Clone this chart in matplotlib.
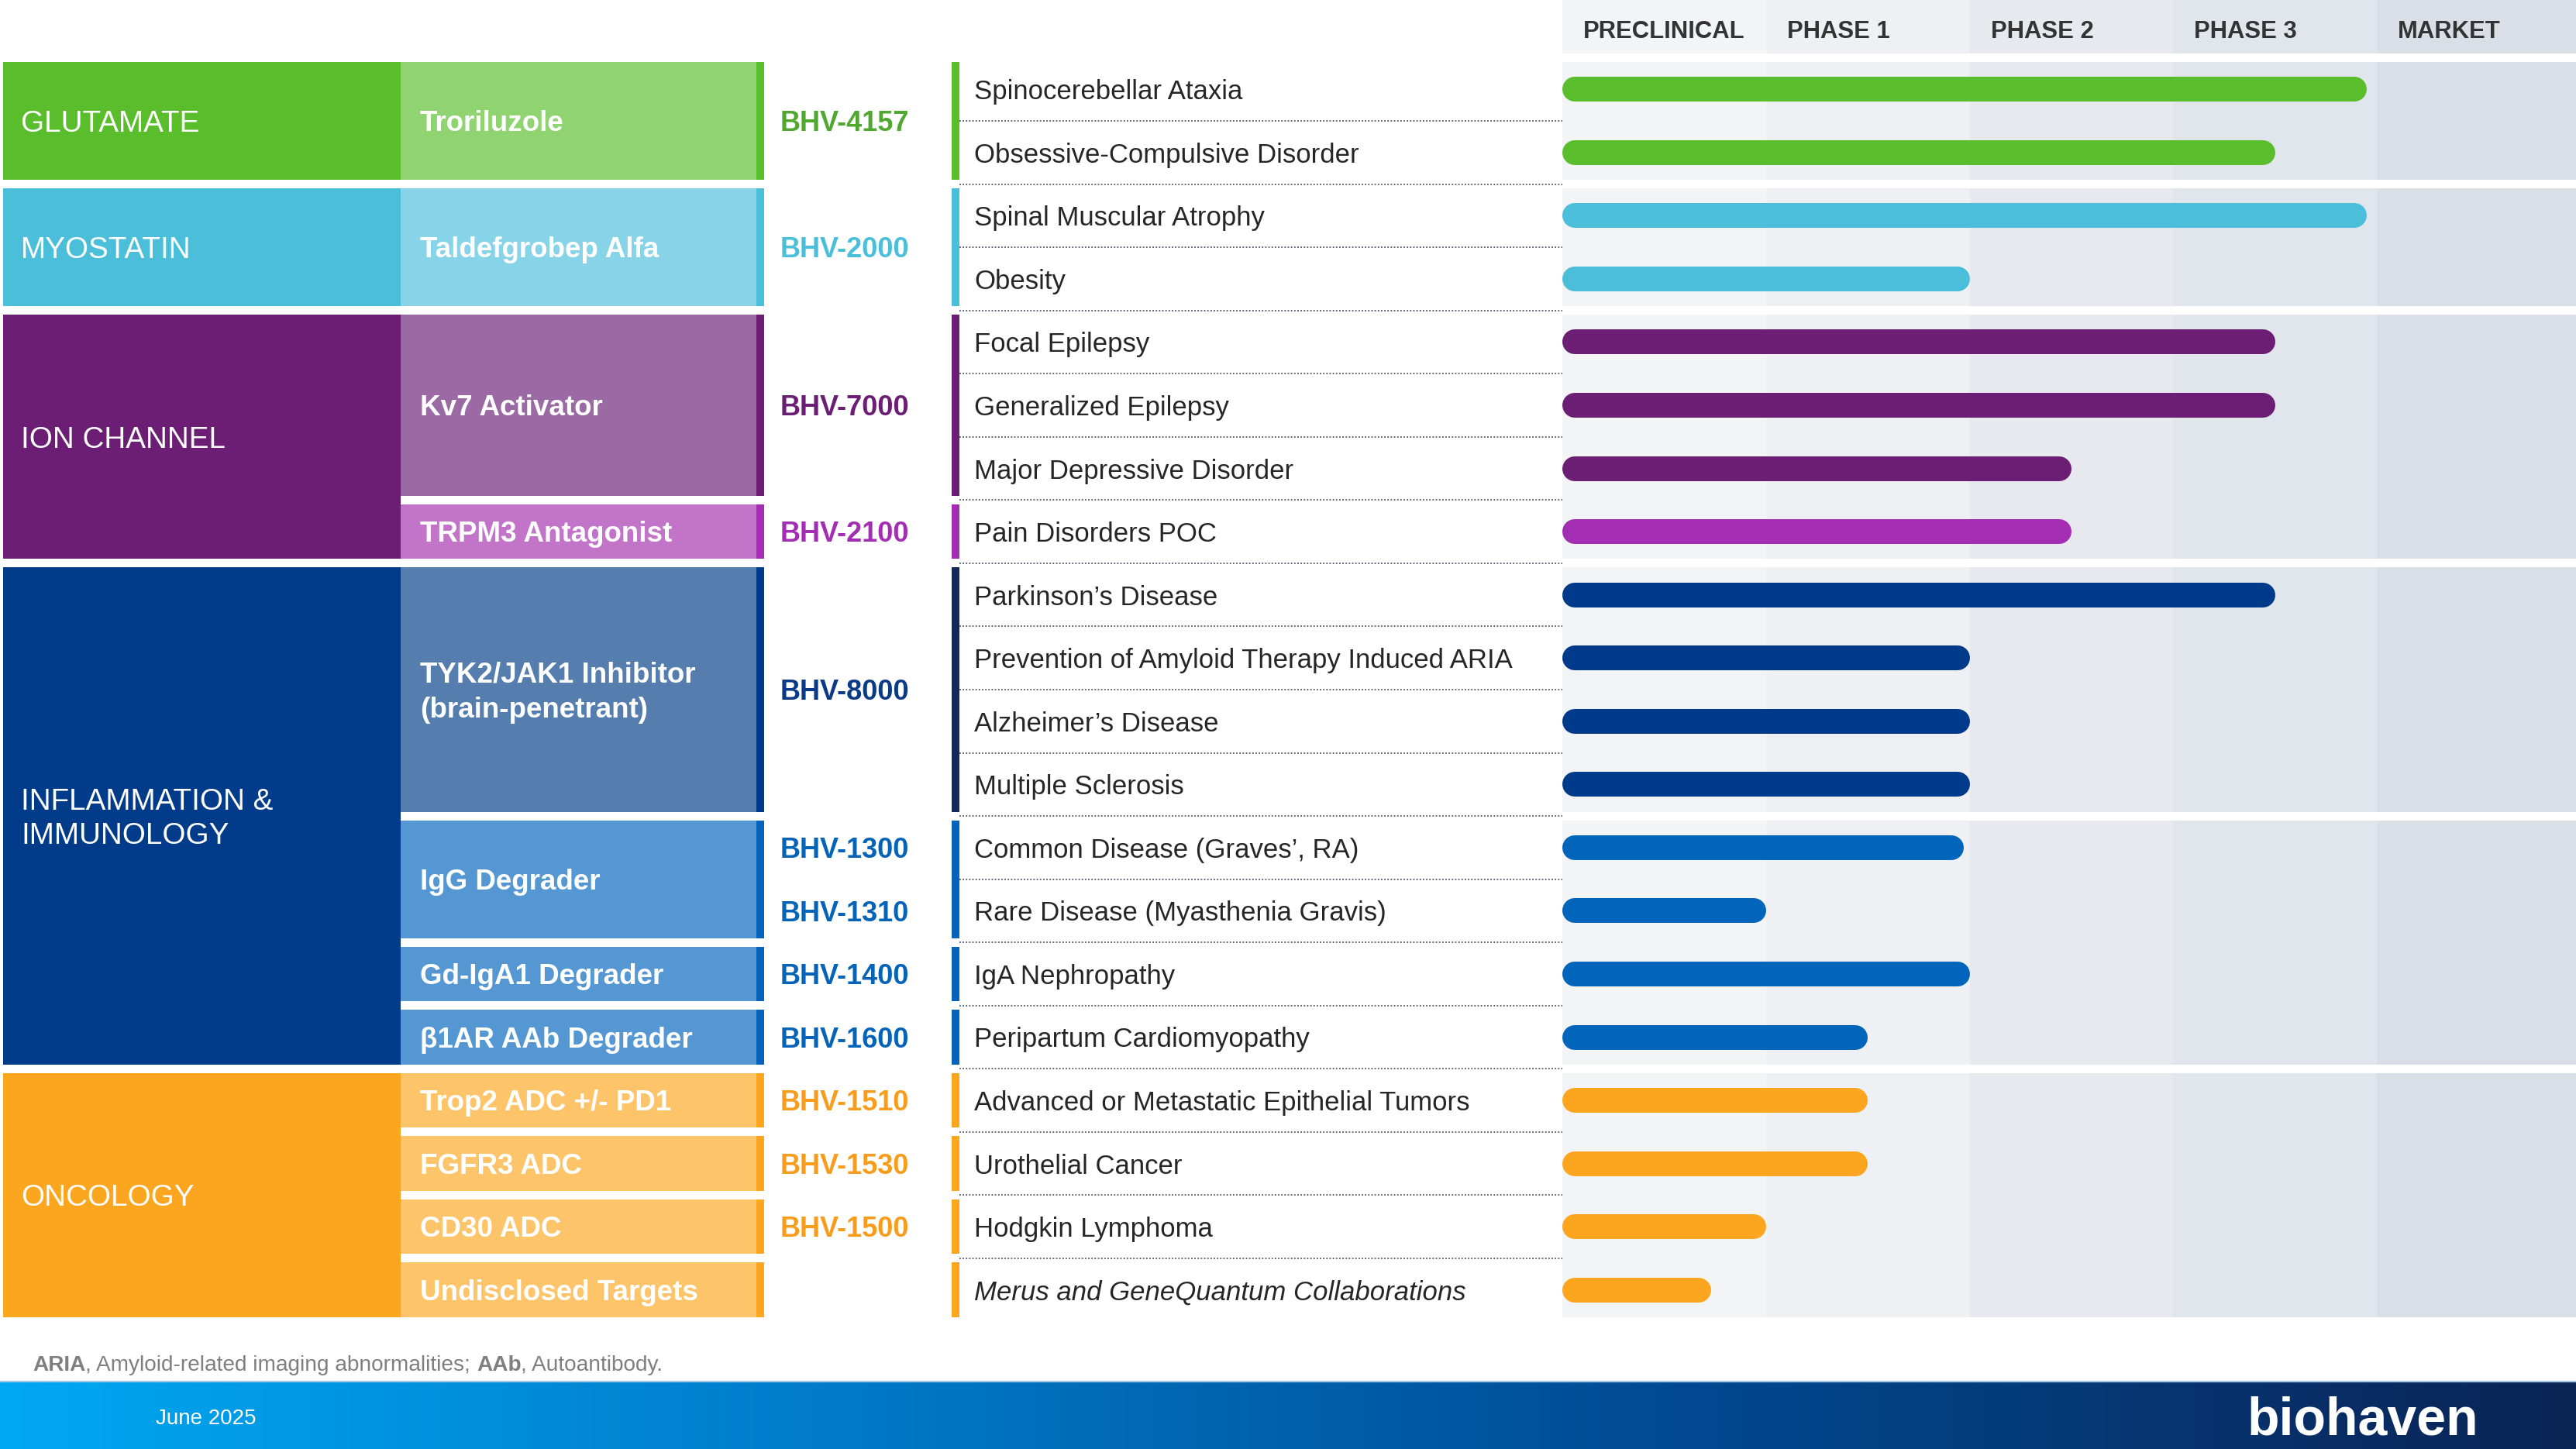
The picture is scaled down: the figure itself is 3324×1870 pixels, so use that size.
import numpy as np
import matplotlib.pyplot as plt
from matplotlib.patches import Rectangle
from matplotlib.colors import LinearSegmentedColormap

plt.rcParams['font.family'] = ['Liberation Sans', 'DejaVu Sans']

# -----------------------------
# DADOS
# -----------------------------

phases = ["PRECLINICAL", "PHASE 1", "PHASE 2", "PHASE 3", "MARKET"]

areas = ["GLUTAMATE", "MYOSTATIN", "ION CHANNEL",
         "INFLAMMATION &\nIMMUNOLOGY", "ONCOLOGY"]
area_rows = [2, 2, 4, 8, 4]

targets = ["Troriluzole", "Taldefgrobep Alfa", "Kv7 Activator",
           "TRPM3 Antagonist", "TYK2/JAK1 Inhibitor\n(brain-penetrant)",
           "IgG Degrader", "Gd-IgA1 Degrader", "β1AR AAb Degrader",
           "Trop2 ADC +/- PD1", "FGFR3 ADC", "CD30 ADC", "Undisclosed Targets"]
target_rows = [2, 2, 3, 1, 4, 2, 1, 1, 1, 1, 1, 1]

codes = ["BHV-4157", "BHV-2000", "BHV-7000", "BHV-2100", "BHV-8000",
         "BHV-1300", "BHV-1310", "BHV-1400", "BHV-1600",
         "BHV-1510", "BHV-1530", "BHV-1500"]
code_rows = [2, 2, 3, 1, 4, 1, 1, 1, 1, 1, 1, 1]

diseases = ["Spinocerebellar Ataxia", "Obsessive-Compulsive Disorder",
            "Spinal Muscular Atrophy", "Obesity",
            "Focal Epilepsy", "Generalized Epilepsy",
            "Major Depressive Disorder", "Pain Disorders POC",
            "Parkinson’s Disease", "Prevention of Amyloid Therapy Induced ARIA",
            "Alzheimer’s Disease", "Multiple Sclerosis",
            "Common Disease (Graves’, RA)", "Rare Disease (Myasthenia Gravis)",
            "IgA Nephropathy", "Peripartum Cardiomyopathy",
            "Advanced or Metastatic Epithelial Tumors", "Urothelial Cancer",
            "Hodgkin Lymphoma", "Merus and GeneQuantum Collaborations"]

# progresso em unidades de fase (1 = uma coluna)
progress = [3.95, 3.5, 3.95, 2.0,
            3.5, 3.5, 2.5, 2.5,
            3.5, 2.0, 2.0, 2.0,
            1.97, 1.0, 2.0, 1.5,
            1.5, 1.5, 1.0, 0.73]

# faixas do grafico (linhas por faixa)
band_rows = [2, 2, 4, 4, 4, 4]

# -----------------------------
# CORES
# -----------------------------

area_colors = ["#5abd2c", "#4bbfda", "#6b1e74", "#013b89", "#fca620"]
target_fill = ["#8fd470", "#87d4e8", "#9b69a3", "#c274c9", "#557eaf",
               "#5497d3", "#5497d3", "#5497d3",
               "#fec46a", "#fec46a", "#fec46a", "#fec46a"]
target_edge = ["#5abd2c", "#4bbfda", "#6b1e74", "#a32db3", "#003a8a",
               "#0563bb", "#0563bb", "#0563bb",
               "#fca620", "#fca620", "#fca620", "#fca620"]
disease_edge = ["#5abd2c", "#4bbfda", "#6b1e74", "#a32db3", "#13295b",
                "#0563bb", "#0563bb", "#0563bb",
                "#fca620", "#fca620", "#fca620", "#fca620"]
bar_colors = ["#5abd2c", "#4bbfda", "#6b1e74", "#a32db3", "#003a8a",
              "#0065bb", "#0065bb", "#0065bb",
              "#fca620", "#fca620", "#fca620", "#fca620"]
code_colors = ["#50a830", "#4bbfda", "#6b1e74", "#a32db3", "#0b3a87",
               "#0563b8", "#0563b8", "#0563b8", "#0563b8",
               "#f89c1c", "#f89c1c", "#f89c1c"]
phase_colors = ["#f3f4f6", "#eef0f3", "#e7e9ee", "#e1e5ec", "#dadee6"]

# -----------------------------
# LAYOUT (pixels)
# -----------------------------

W, H = 3324, 1870
row0 = 74.5
pitch = 81.55
gap = 5.5
chart_x0 = 2016
px_phase = 262.8

n_rows = len(diseases)
edges = [row0 + pitch * k for k in range(n_rows + 1)]
row_mid = [(edges[k] + edges[k + 1]) / 2 for k in range(n_rows)]


def span(r0, n):
    ''' Extensao vertical de um bloco de n linhas a partir de r0. '''
    return edges[r0] + gap, edges[r0 + n] - gap


def dy(size):
    ''' Correcao para centrar visualmente as maiusculas. '''
    return 0.1 * size * 100 / 72


band_of_row = []
for b, n in enumerate(band_rows):
    band_of_row += [b] * n

fig = plt.figure(figsize=(W / 100, H / 100), dpi=100)
ax = fig.add_axes([0, 0, 1, 1])
ax.axis('off')

# -----------------------------
# AREAS TERAPEUTICAS
# -----------------------------

r = 0
for name, n, col in zip(areas, area_rows, area_colors):
    top, bot = span(r, n)
    ax.add_patch(Rectangle((4, top), 513, bot - top, color=col, lw=0))
    ax.text(27, (top + bot) / 2 + dy(27.8), name, color="white",
            fontsize=27.8, va="center", ha="left", linespacing=1.27)
    r += n

# -----------------------------
# ALVOS
# -----------------------------

r = 0
for i, (name, n) in enumerate(zip(targets, target_rows)):
    top, bot = span(r, n)
    ax.add_patch(Rectangle((517, top), 459, bot - top,
                           color=target_fill[i], lw=0))
    ax.add_patch(Rectangle((975.5, top), 10.5, bot - top,
                           color=target_edge[i], lw=0))
    ax.add_patch(Rectangle((1228, top), 10, bot - top,
                           color=disease_edge[i], lw=0))
    ax.text(542, (top + bot) / 2 + dy(26.5), name, color="white",
            fontsize=26.5, fontweight="bold", va="center", ha="left",
            linespacing=1.38)
    r += n

# -----------------------------
# CODIGOS
# -----------------------------

r = 0
for i, (code, n) in enumerate(zip(codes, code_rows)):
    top, bot = span(r, n)
    ax.text(1007, (top + bot) / 2 + dy(26), code, color=code_colors[i],
            fontsize=26, fontweight="bold", va="center", ha="left")
    r += n

# -----------------------------
# DOENCAS
# -----------------------------

for k, d in enumerate(diseases):
    ax.text(1257, row_mid[k] + dy(25), d, color="#262626", fontsize=25,
            va="center", ha="left",
            style="italic" if k == n_rows - 1 else "normal")

for k in range(1, n_rows):
    x1 = W if band_of_row[k - 1] == band_of_row[k] else chart_x0
    ax.plot([1238, x1], [edges[k], edges[k]], color="#4d5866",
            lw=1.3, ls=(0, (1, 1.3)), zorder=3)

# -----------------------------
# RODAPE
# -----------------------------

cm = LinearSegmentedColormap.from_list(
    "rodape", [(0, "#00a8f2"), (0.35, "#0077c6"), (0.65, "#004a92"),
               (1, "#0b2455")])
ax.imshow(np.linspace(0, 1, 512).reshape(1, -1), cmap=cm,
          extent=(0, W, H, 1783), aspect="auto", zorder=0)
ax.plot([0, W], [1783, 1783], color="#a6c6e6", lw=1.5)
ax.text(201, 1828 + dy(20), "June 2025", color="white", fontsize=20,
        va="center", ha="left")
ax.text(2900, 1851, "biohaven", color="white", fontsize=49,
        fontweight="bold", va="baseline", ha="left")

ax.set_xlim(0, W)
ax.set_ylim(H, 0)

renderer = fig.canvas.get_renderer()
x = 42
for txt, wt in [("ARIA", "bold"),
                (", Amyloid-related imaging abnormalities; ", "normal"),
                ("AAb", "bold"), (", Autoantibody.", "normal")]:
    t = ax.text(x, 1759 + dy(20.2), txt, color="#7f7f7f", fontsize=20.2,
                fontweight=wt, va="center", ha="left")
    x += t.get_window_extent(renderer).width

# -----------------------------
# GRAFICO DE FASES
# -----------------------------

ax_b = fig.add_axes([chart_x0 / W, 0, 1 - chart_x0 / W, 1])
ax_b.patch.set_visible(False)
ax_b.axis('off')
ax_b.set_xlim(0, (W - chart_x0) / px_phase)
ax_b.set_ylim(H, 0)

for i, (ph, col) in enumerate(zip(phases, phase_colors)):
    ax_b.add_patch(Rectangle((i, 0), 1, 69, color=col, lw=0, zorder=0))
    r = 0
    for n in band_rows:
        top, bot = span(r, n)
        ax_b.add_patch(Rectangle((i, top), 1, bot - top, color=col, lw=0,
                                 zorder=0))
        r += n
    ax_b.text(i + 0.103, 38 + dy(22.3), ph, color="#333333", fontsize=22.3,
              fontweight="bold", va="center", ha="left")

bar_px = 32
cap = bar_px / 2 / px_phase
row_color = []
for i, n in enumerate(target_rows):
    row_color += [bar_colors[i]] * n

for k, v in enumerate(progress):
    ax_b.plot([cap, v - cap], [row_mid[k], row_mid[k]],
              color=row_color[k], lw=bar_px * 0.72,
              solid_capstyle="round", zorder=2)

fig.savefig("out.png", dpi=100)
